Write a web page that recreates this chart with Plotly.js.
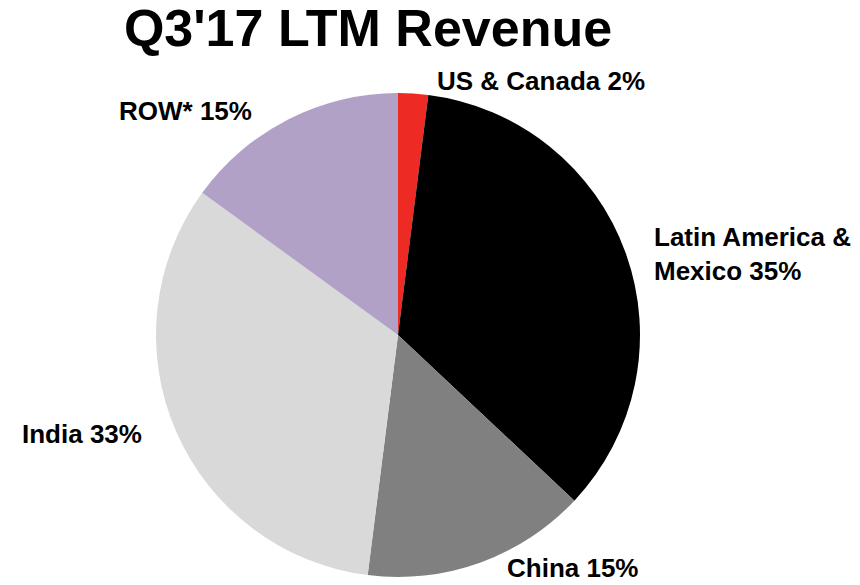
<!DOCTYPE html>
<html>
<head>
<meta charset="utf-8">
<script src="https://cdn.plot.ly/plotly-3.0.1.min.js"></script>
<style>html,body{margin:0;padding:0;background:#fff;}#chart{width:860px;height:585px;}</style>
</head>
<body>
<div id="chart"></div>
<script>
const regions = ["US & Canada", "Latin America & Mexico", "China", "India", "ROW*"];
const shares = [2, 35, 15, 33, 15];
const labelText = ["US & Canada 2%", "Latin America &<br>Mexico 35%", "China 15%", "India 33%", "ROW* 15%"];
const colors = ["#EE2A24", "#000000", "#808080", "#D9D9D9", "#B2A1C7"];

const W = 860, H = 585;
// label anchor positions in pixels (left edge, vertical middle)
const labelPos = [[435, 81], [652, 254], [505, 568], [20, 434], [117, 111]];

const annotations = labelText.map((t, i) => ({
  text: t,
  xref: 'paper', yref: 'paper',
  x: labelPos[i][0] / W, y: 1 - labelPos[i][1] / H,
  xanchor: 'left', yanchor: 'middle', align: 'left',
  showarrow: false,
  font: {family: 'Liberation Sans, Arial, sans-serif', size: 26, color: '#000', weight: 'bold'}
}));

const cx = 398, cy = 335, r = 242;
const data = [{
  type: 'pie',
  labels: regions,
  values: shares,
  sort: false,
  direction: 'clockwise',
  rotation: 0,
  marker: {colors: colors, line: {width: 0}},
  textinfo: 'none',
  hoverinfo: 'label+percent',
  showlegend: false,
  domain: {x: [(cx - r) / W, (cx + r) / W], y: [1 - (cy + r) / H, 1 - (cy - r) / H]}
}];

const layout = {
  width: W, height: H,
  margin: {l: 0, r: 0, t: 0, b: 0},
  paper_bgcolor: '#fff',
  title: {
    text: "<b>Q3'17 LTM Revenue</b>",
    x: 368 / W, xanchor: 'center',
    y: 1 - 28 / H, yref: 'container', yanchor: 'middle',
    font: {family: 'Liberation Sans, Arial, sans-serif', size: 52, color: '#000'}
  },
  annotations: annotations,
  showlegend: false
};

Plotly.newPlot('chart', data, layout, {displayModeBar: false, staticPlot: true});
</script>
</body>
</html>
